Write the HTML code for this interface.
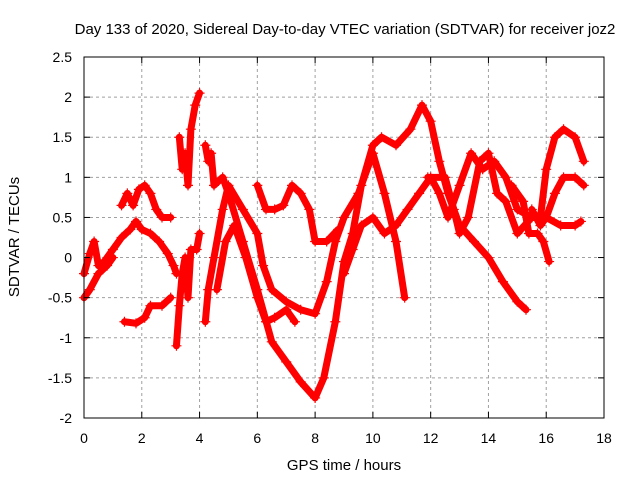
<!DOCTYPE html>
<html><head><meta charset="utf-8"><style>
body{margin:0;background:#fff;}
svg text{font-family:"Liberation Sans",sans-serif;font-size:14px;fill:#000;}
</style></head><body>
<svg id="chart" width="640" height="480" xmlns="http://www.w3.org/2000/svg">
<rect width="640" height="480" fill="#fff"/>
<text x="345" y="34" text-anchor="middle" style="font-size:15px">Day 133 of 2020, Sidereal Day-to-day VTEC variation (SDTVAR) for receiver joz2</text>
<g id="grid"></g>
<g id="series"></g>
<rect x="84" y="57" width="520" height="361" fill="none" stroke="#000" stroke-width="1"/>
<g id="axes"></g>
<text x="344" y="470" text-anchor="middle" style="font-size:15px">GPS time / hours</text>
<text x="0" y="0" transform="translate(19,237) rotate(-90)" text-anchor="middle" style="font-size:15px">SDTVAR / TECUs</text>
</svg>
<script>
const xTicks=[0,2,4,6,8,10,12,14,16,18];
const yTicks=[-2,-1.5,-1,-0.5,0,0.5,1,1.5,2,2.5];
const trackA=[[0,-0.2],[0.2,0.05],[0.35,0.2],[0.5,-0.1],[0.7,-0.05],[1,0.1],[1.3,0.25],[1.6,0.35],[1.8,0.45],[2,0.35],[2.3,0.3],[2.6,0.2],[2.9,0.05],[3.1,-0.1],[3.2,-0.2]];
const trackB=[[1.3,0.65],[1.5,0.8],[1.7,0.65],[1.9,0.85],[2.1,0.9],[2.3,0.8],[2.5,0.6],[2.7,0.5],[3,0.5]];
const trackC=[[1.4,-0.8],[1.8,-0.82],[2.1,-0.75],[2.3,-0.6],[2.7,-0.6],[3,-0.5]];
const trackD=[[0,-0.5],[0.2,-0.4],[0.5,-0.2],[0.8,-0.1],[1,0.0]];
const trackE=[[3.3,1.5],[3.4,1.1],[3.5,1.3],[3.6,0.9],[3.7,1.6],[3.85,1.9],[4,2.05]];
const trackF=[[3.2,-1.1],[3.3,-0.6],[3.4,-0.2],[3.5,0.0],[3.6,-0.5],[3.7,0.1],[3.9,0.1],[4,0.3]];
const trackG=[[4.2,1.4],[4.3,1.2],[4.4,1.3],[4.5,0.9],[4.8,1.0],[5,0.8],[5.5,0.2],[6,-0.4],[6.5,-1.05],[7,-1.3],[7.5,-1.55],[8,-1.75],[8.3,-1.5],[8.7,-0.8],[9,-0.05],[9.3,0.3],[9.6,0.9],[10,1.4],[10.3,1.5],[10.8,1.4],[11.3,1.6],[11.7,1.9],[12,1.7],[12.3,1.2],[12.6,0.8],[13,0.4],[13.5,0.2],[14,0.0],[14.5,-0.3],[15,-0.55],[15.3,-0.65]];
const trackH=[[4.2,-0.8],[4.3,-0.4],[4.5,0.0],[4.8,0.6],[5,0.9],[5.5,0.6],[6,0.3],[6.2,-0.1],[6.5,-0.4],[7,-0.55],[7.5,-0.65],[8,-0.7],[8.4,-0.3],[8.7,0.2],[9,0.5],[9.5,0.8],[10,1.3],[10.4,0.8],[10.8,0.2],[11.1,-0.5]];
const trackI=[[4.6,-0.4],[4.9,0.2],[5.2,0.4],[5.6,0.0],[6,-0.5],[6.3,-0.8],[6.6,-0.75],[7,-0.65],[7.3,-0.8]];
const trackJ=[[6,0.9],[6.3,0.6],[6.6,0.6],[6.9,0.65],[7.2,0.9],[7.5,0.8],[7.8,0.6],[8,0.2],[8.4,0.2],[8.8,0.35]];
const trackK=[[9,-0.2],[9.3,0.1],[9.6,0.4],[10,0.5],[10.4,0.3],[10.8,0.4],[11.2,0.6],[11.6,0.8],[12,1.0],[12.3,0.8],[12.6,0.5],[13,0.9],[13.4,1.3],[13.8,1.1],[14.2,1.2],[14.6,1.0],[15,0.6],[15.5,0.5],[16,0.5],[16.3,0.8],[16.6,1.0],[17,1.0],[17.3,0.9]];
const trackL=[[11.9,1.0],[12.5,1.0],[12.8,0.6],[13,0.3],[13.3,0.5],[13.7,1.2],[14,1.3],[14.3,0.8],[14.6,0.7],[15,0.3],[15.5,0.5],[15.8,0.5],[16,1.1],[16.3,1.5],[16.6,1.6],[17,1.5],[17.3,1.2]];
const trackM=[[15.5,0.6],[15.8,0.4],[16,0.5],[16.5,0.4],[17,0.4],[17.2,0.45]];
const trackN=[[14.8,0.9],[15.2,0.7],[15.4,0.3],[15.7,0.3],[15.9,0.2],[16.1,-0.05]];
const tracks=[trackA,trackB,trackC,trackD,trackE,trackF,trackG,trackH,trackI,trackJ,trackK,trackL,trackM,trackN];
const NS="http://www.w3.org/2000/svg";
const X=v=>84+(v-0)/(18-0)*520;
const Y=v=>418-(v+2)/(4.5)*361;
const grid=document.getElementById('grid'),axes=document.getElementById('axes'),ser=document.getElementById('series');
function mk(t,a){const e=document.createElementNS(NS,t);for(const k in a)e.setAttribute(k,a[k]);return e;}
xTicks.forEach(t=>{
  if(t>0&&t<18){const g=mk('line',{x1:X(t),x2:X(t),y1:57,y2:418,stroke:'#a0a0a0','stroke-dasharray':'3,3'});
  
  
  grid.appendChild(g);}
  axes.appendChild(mk('line',{x1:X(t),x2:X(t),y1:418,y2:412,stroke:'#000'}));
  axes.appendChild(mk('line',{x1:X(t),x2:X(t),y1:57,y2:63,stroke:'#000'}));
  const tx=mk('text',{x:X(t),y:443,'text-anchor':'middle'});tx.textContent=t;
  
  
  axes.appendChild(tx);
});
yTicks.forEach(t=>{
  if(t>-2&&t<2.5){const g=mk('line',{x1:84,x2:604,y1:Y(t),y2:Y(t),stroke:'#a0a0a0','stroke-dasharray':'3,3'});
  
  
  grid.appendChild(g);}
  axes.appendChild(mk('line',{x1:84,x2:90,y1:Y(t),y2:Y(t),stroke:'#000'}));
  axes.appendChild(mk('line',{x1:604,x2:598,y1:Y(t),y2:Y(t),stroke:'#000'}));
  const tx=mk('text',{x:72,y:Y(t)+5,'text-anchor':'end'});tx.textContent=t;
  
  
  axes.appendChild(tx);
});
tracks.forEach(tr=>{
  const pl=mk('polyline',{points:tr.map(p=>X(p[0])+','+Y(p[1])).join(' '),fill:'none',stroke:'#ff0000','stroke-width':7,'stroke-linejoin':'round','stroke-linecap':'round'});
  
  
  ser.appendChild(pl);
  tr.forEach(p=>{
    const m=mk('path',{d:`M${X(p[0])-5},${Y(p[1])}h10M${X(p[0])},${Y(p[1])-5}v10`,stroke:'#ff0000','stroke-width':1.2});
    
    
    ser.appendChild(m);
  });
});
</script>
</body></html>
